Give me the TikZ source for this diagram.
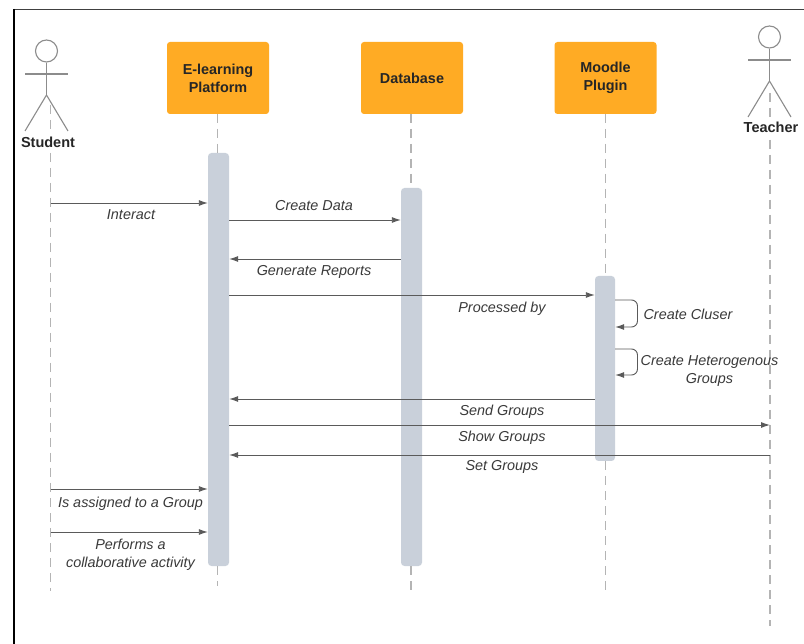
\documentclass[tikz,border=0pt]{standalone}
\usepackage{fontspec}
\setmainfont{Liberation Sans}
\usetikzlibrary{arrows.meta}
\definecolor{boxorange}{HTML}{FFAB24}
\definecolor{barblue}{HTML}{C9D0DA}
\definecolor{lineg}{HTML}{5A5A5A}
\definecolor{lifeg}{HTML}{B4B4B4}
\definecolor{stick}{HTML}{8C8C8C}
\definecolor{textg}{HTML}{3A3A3A}
\tikzset{
 every picture/.style={x=1pt,y=-1pt},
 party/.style={draw=none,fill=boxorange,rounded corners=3pt,minimum width=102pt,minimum height=72pt,align=center,font=\fontsize{14.4}{18}\selectfont\bfseries,text=black!85,inner sep=0pt},
 bar/.style={fill=barblue,rounded corners=3.5pt,draw=none,minimum width=21pt,inner sep=0pt},
 life/.style={draw=lifeg,line width=1.4pt,dash pattern=on 9pt off 6pt},
 msg/.style={draw=lineg,line width=0.9pt,-{Latex[length=9pt,width=6pt]}},
 lab/.style={font=\fontsize{14.4}{18}\selectfont\itshape,text=textg,align=center,inner sep=0pt},
 who/.style={font=\fontsize{14.5}{18}\selectfont\bfseries,text=black!85,inner sep=0pt},
 limb/.style={draw=stick,line width=1.1pt},
}
\begin{document}
\begin{tikzpicture}
\useasboundingbox (0,0) rectangle (804,644);
\fill[white] (0,0) rectangle (804,644);
% frame
\draw[black!75,line width=1pt] (13,9.5) -- (804,9.5);
\draw[black,line width=2pt] (13.5,9) -- (13.5,644);
% parties
\node[party] (elp) at (218,78) {E-learning\\Platform};
\node[party] (db) at (412,78) {Database};
\node[party] (mp) at (605.5,78) {Moodle\\Plugin};
% activation bars
\node[bar,minimum height=413pt] (barE) at (218.5,359.5) {};
\node[bar,minimum height=378pt] (barD) at (411.5,377) {};
\node[bar,minimum height=185pt,minimum width=20pt] (barM) at (605,368.5) {};
% actor Student
\node[draw=stick,line width=1.1pt,circle,minimum size=22pt,inner sep=0pt] (headS) at (46.5,51) {};
\coordinate (hipS) at (46.5,95);
\coordinate (armSl) at (25,74);
\coordinate (armSr) at (68,74);
\coordinate (legSl) at (25,131);
\coordinate (legSr) at (68,131);
\draw[limb] (headS) -- (hipS);
\draw[limb] (armSl) -- (armSr);
\draw[limb] (legSl) -- (hipS) -- (legSr);
\node[who] (student) at (48,142) {Student};
% actor Teacher
\node[draw=stick,line width=1.1pt,circle,minimum size=22pt,inner sep=0pt] (headT) at (769.5,37) {};
\coordinate (hipT) at (769.5,81);
\coordinate (armTl) at (748,60);
\coordinate (armTr) at (791,60);
\coordinate (legTl) at (748,117);
\coordinate (legTr) at (791,117);
\draw[limb] (headT) -- (hipT);
\draw[limb] (armTl) -- (armTr);
\draw[limb] (legTl) -- (hipT) -- (legTr);
\node[who] (teacher) at (771,127.5) {Teacher};
% lifeline ends
\coordinate (lsTop) at (50.5,105);
\coordinate (lsTop2) at (50.5,153);
\coordinate (lsEnd) at (50.5,591);
\coordinate (ltTop) at (770,93);
\coordinate (ltTop2) at (770,140);
\coordinate (ltEnd) at (770,626);
\coordinate (leTop) at (217.7,114);
\coordinate (leBar) at (217.7,153);
\coordinate (leLow) at (217.7,566);
\coordinate (leEnd) at (217.7,586);
\coordinate (ldTop) at (411,114);
\coordinate (ldBar) at (411,188);
\coordinate (ldLow) at (411,566);
\coordinate (ldEnd) at (411,591);
\coordinate (lmTop) at (605.7,114);
\coordinate (lmBar) at (605.7,276);
\coordinate (lmLow) at (605.7,461);
\coordinate (lmEnd) at (605.7,591);
% lifelines
\draw[life] (lsTop) -- ++(0,26);
\draw[life] (lsTop2) -- (lsEnd);
\draw[life] (ltTop) -- ++(0,24);
\draw[life] (ltTop2) -- (ltEnd);
\draw[life] (leTop) -- (leBar);
\draw[life] (leLow) -- (leEnd);
\draw[life] (ldTop) -- (ldBar);
\draw[life] (ldLow) -- (ldEnd);
\draw[life] (lmTop) -- (lmBar);
\draw[life] (lmLow) -- (lmEnd);
% messages
\draw[msg] (50.5,203) -- (barE.west |- 0,203);
\node[lab] (l1) at (131,215) {Interact};
\draw[msg] (barE.east |- 0,220) -- (barD.west |- 0,220);
\node[lab] (l2) at (314,205.5) {Create Data};
\draw[msg] (barD.west |- 0,259) -- (barE.east |- 0,259);
\node[lab] (l3) at (314,271.5) {Generate Reports};
\draw[msg] (barE.east |- 0,295) -- (barM.west |- 0,295);
\node[lab] (l4) at (502,308.5) {Processed by};
\draw[msg,rounded corners=6pt] (barM.east |- 0,300) -- (637.5,300) -- (637.5,327) -- (barM.east |- 0,327);
\node[lab] (l5) at (688,314.5) {Create Cluser};
\draw[msg,rounded corners=6pt] (barM.east |- 0,349) -- (637.5,349) -- (637.5,375) -- (barM.east |- 0,375);
\node[lab] (l6) at (709.5,371) {Create Heterogenous\\Groups};
\draw[msg] (barM.west |- 0,399) -- (barE.east |- 0,399);
\node[lab] (l7) at (502,411.5) {Send Groups};
\draw[msg] (barE.east |- 0,425) -- (770,425);
\node[lab] (l8) at (502,437.5) {Show Groups};
\draw[msg] (770,455) -- (barE.east |- 0,455);
\node[lab] (l9) at (502,467) {Set Groups};
\draw[msg] (50.5,489) -- (barE.west |- 0,489);
\node[lab] (l10) at (130.5,503.5) {Is assigned to a Group};
\draw[msg] (50.5,532) -- (barE.west |- 0,532);
\node[lab] (l11) at (130.5,554.5) {Performs a\\collaborative activity};
\end{tikzpicture}
\end{document}
